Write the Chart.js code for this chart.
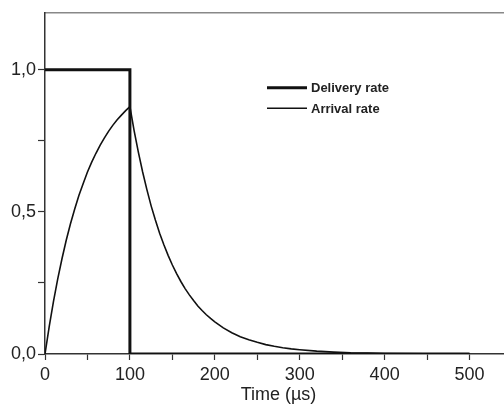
<!DOCTYPE html>
<html>
<head>
<meta charset="utf-8">
<script src="https://cdn.jsdelivr.net/npm/chart.js@4"></script>
<style>
html,body{margin:0;padding:0;overflow:hidden;background:#fff}
#wrap{width:516px;height:406px}
</style>
</head>
<body>
<div id="wrap"><canvas id="graph"></canvas></div>
<script>
// delivery rate: square pulse
const deliveryT=[0,100,100,500]
const deliveryY=[1,1,0,0]
// arrival rate
const arrivalT=[0,5,10,15,20,25,30,35,40,45,50,55,60,65,70,75,80,85,90,95,100,
    105,110,115,120,125,130,135,140,145,150,155,160,165,170,175,180,185,190,195,200,
    210,220,230,240,250,260,270,280,290,300,320,340,360,380,400,450,500]
const arrivalY=[0,0.097,0.185,0.264,0.335,0.40,0.458,0.51,0.558,0.60,0.64,0.675,0.706,0.735,0.76,0.784,0.805,0.824,0.84,0.856,0.87,
    0.785,0.709,0.64,0.578,0.521,0.471,0.425,0.384,0.347,0.313,0.283,0.255,0.23,0.208,0.188,0.169,0.153,0.138,0.125,0.113,
    0.092,0.075,0.061,0.050,0.041,0.033,0.027,0.022,0.018,0.015,0.010,0.0065,0.004,0.003,0.002,0.001,0]
const xLabels=[0,100,200,300,400,500]
const yLabels=[0,0.5,1]

const font="'Liberation Sans', Arial, sans-serif"
const ink="#222"

const pts=(xs,ys)=>xs.map((x,i)=>({x:x,y:ys[i]}))
const onStep=(v,s)=>Math.abs(v/s-Math.round(v/s))<1e-6

const insideLegend={
    id:'insideLegend',
    afterDatasetsDraw(chart){
        const ctx=chart.ctx, a=chart.chartArea
        const x0=a.left+222, y0=a.top+75
        chart.data.datasets.forEach((ds,i)=>{
            const y=y0+i*20.5
            ctx.save()
            ctx.strokeStyle=ds.borderColor
            ctx.lineWidth=ds.borderWidth
            ctx.beginPath()
            ctx.moveTo(x0,y)
            ctx.lineTo(x0+40,y)
            ctx.stroke()
            ctx.fillStyle=ink
            ctx.font="bold 13px "+font
            ctx.textBaseline='middle'
            ctx.fillText(ds.label,x0+44,y+1)
            ctx.restore()
        })
    }
}

new Chart("graph",{
    type:'scatter',
    data:{
        datasets:[{
            label:'Delivery rate',
            data:pts(deliveryT,deliveryY),
            showLine:true,
            borderColor:'#111',
            borderWidth:3,
            pointRadius:0,
            tension:0
        },{
            label:'Arrival rate',
            data:pts(arrivalT,arrivalY),
            showLine:true,
            borderColor:'#111',
            borderWidth:1.6,
            pointRadius:0,
            tension:0
        }]
    },
    options:{
        responsive:true,
        maintainAspectRatio:false,
        animation:false,
        layout:{padding:{left:0,right:1,top:0,bottom:0}},
        plugins:{legend:{display:false},tooltip:{enabled:false}},
        scales:{
            x:{
                type:'linear',min:0,max:550,
                afterFit:s=>{s.height=52},
                border:{color:'#333',width:1.5},
                grid:{drawOnChartArea:false,tickLength:6,tickWidth:1.2,
                    tickColor:c=>onStep(c.tick.value,50)?'#333':'rgba(0,0,0,0)'},
                ticks:{stepSize:50,padding:4,color:ink,font:{family:font,size:18},
                    callback:v=>xLabels.includes(v)?String(v):''},
                title:{display:true,text:'Time (µs)',color:ink,font:{family:font,size:18},padding:{top:0,bottom:0}}
            },
            x2:{
                type:'linear',position:'top',min:0,max:550,
                afterFit:s=>{s.height=10},
                border:{color:'#888',width:1.5},
                grid:{drawOnChartArea:false,drawTicks:false},
                ticks:{display:false}
            },
            y:{
                min:0,max:1.2,
                afterFit:s=>{s.width=45},
                border:{color:'#333',width:1.5},
                grid:{drawOnChartArea:false,tickLength:7,tickWidth:1.2,
                    tickColor:c=>onStep(c.tick.value,0.25)?'#333':'rgba(0,0,0,0)'},
                ticks:{stepSize:0.25,padding:2,color:ink,font:{family:font,size:18},
                    callback:v=>yLabels.some(l=>Math.abs(l-v)<1e-6)?v.toFixed(1).replace('.',','):''}
            }
        }
    },
    plugins:[insideLegend]
})
</script>
</body>
</html>
